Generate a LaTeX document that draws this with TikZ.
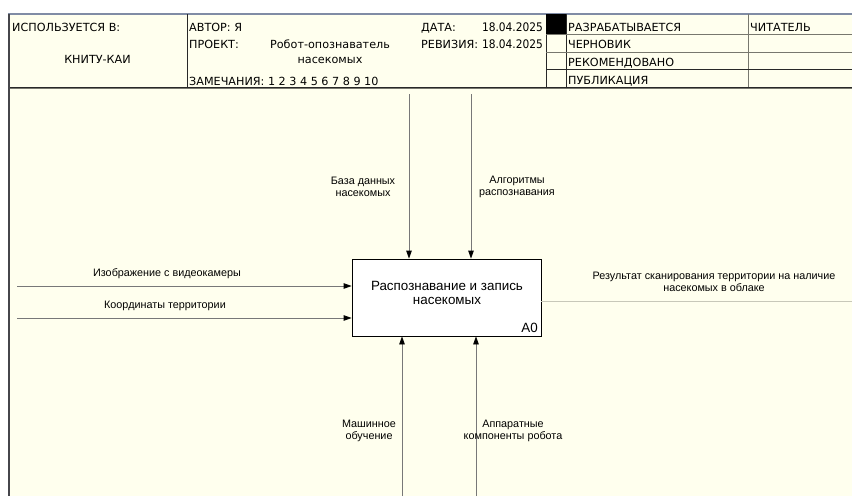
\documentclass[tikz,border=0pt]{standalone}
\usepackage{fontspec}
\setmainfont{Liberation Sans}
\newfontfamily\hdrfont{DejaVu Sans}
\newfontfamily\hdrcond{DejaVu Sans Condensed}
\newfontfamily\lblfont{Liberation Sans}
\usetikzlibrary{arrows.meta}
\definecolor{ivory}{RGB}{255,255,238}
\definecolor{framecol}{RGB}{128,140,165}
\definecolor{leftcol}{RGB}{70,70,75}
\definecolor{hdrline}{RGB}{40,40,40}
\definecolor{rowline}{RGB}{120,120,110}
\definecolor{arrline}{RGB}{120,120,120}
\definecolor{outline}{RGB}{200,200,185}
\begin{document}
\begin{tikzpicture}[x=1pt,y=-1pt,
  hdr/.style={font=\hdrfont\fontsize{11.2}{13}\selectfont, inner sep=0pt},
  hdrnum/.style={font=\hdrcond\fontsize{11.8}{13}\selectfont, inner sep=0pt},
  lbl/.style={font=\lblfont\fontsize{10.8}{12}\selectfont, inner sep=0pt, align=center},
  boxtxt/.style={font=\lblfont\fontsize{13.4}{15}\selectfont, inner sep=0pt, align=center},
  flow/.style={draw=arrline, line width=0.8pt, -{Triangle[length=8pt,width=5.5pt,color=black]}},
  outflow/.style={draw=outline, line width=1pt}]
\useasboundingbox (0,0) rectangle (852,496);
\fill[white] (0,0) rectangle (852,496);
\fill[ivory] (8,14) rectangle (852,496);
% header frame
\draw[framecol, line width=1.5pt] (8,14) -- (852,14);
\draw[hdrline, line width=1pt] (8,87) -- (852,87);
\draw[rowline, line width=1pt] (8,88.5) -- (852,88.5);
\draw[hdrline, line width=1pt] (187,14) -- (187,87);
\draw[hdrline, line width=1pt] (546,14) -- (546,87);
\draw[hdrline, line width=1pt] (566,14) -- (566,87);
\draw[rowline, line width=1pt] (748,14) -- (748,87);
\fill[black] (546,14) rectangle (566,34);
\draw[rowline, line width=1pt] (546,34) -- (852,34);
\draw[rowline, line width=1pt] (546,52) -- (852,52);
\draw[hdrline, line width=1pt] (546,69.5) -- (852,69.5);
\draw[leftcol, line width=2pt] (9,14) -- (9,496);
% header texts
\node[hdr, anchor=base west] (uses) at (12,31) {ИСПОЛЬЗУЕТСЯ В:};
\node[hdr, anchor=base] (org) at (97.5,63) {КНИТУ-КАИ};
\node[hdr, anchor=base west] (author) at (189,31) {АВТОР: Я};
\node[hdr, anchor=base west] (proj) at (189,48) {ПРОЕКТ:};
\node[hdr, anchor=base, align=center] (projname) at (330,48) {Робот-опознаватель};
\node[hdr, anchor=base] (projname2) at (330,63) {насекомых};
\node[hdr, anchor=base west] (notes) at (189,85) {ЗАМЕЧАНИЯ: 1 2 3 4 5 6 7 8 9 10};
\node[hdr, anchor=base west] (date) at (421,31) {ДАТА:};
\node[hdrnum, anchor=base east] (dateval) at (543,31) {18.04.2025};
\node[hdr, anchor=base west] (rev) at (421,48) {РЕВИЗИЯ:};
\node[hdrnum, anchor=base east] (revval) at (543,48) {18.04.2025};
\node[hdr, anchor=base west] (st1) at (568,31) {РАЗРАБАТЫВАЕТСЯ};
\node[hdr, anchor=base west] (st2) at (568,48) {ЧЕРНОВИК};
\node[hdr, anchor=base west] (st3) at (568,66) {РЕКОМЕНДОВАНО};
\node[hdr, anchor=base west] (st4) at (568,84) {ПУБЛИКАЦИЯ};
\node[hdr, anchor=base west] (reader) at (750,31) {ЧИТАТЕЛЬ};
% activity box
\node[draw=black, fill=white, line width=0.8pt, minimum width=189pt, minimum height=77pt, inner sep=0pt] (A0) at (446.5,297.5) {};
\node[boxtxt] (A0t1) at (447,286) {Распознавание и запись};
\node[boxtxt] (A0t2) at (447,301) {насекомых};
\node[boxtxt, anchor=base east] (A0id) at (538,332) {A0};
% coordinates for free ends
\coordinate (in1) at (17,286);
\coordinate (in2) at (17,318);
\coordinate (c1) at (409,94);
\coordinate (c2) at (471,94);
\coordinate (m1) at (402,496);
\coordinate (m2) at (476,496);
\coordinate (out) at (852,301);
% arrows
\draw[flow] (in1) -- (in1 -| A0.west);
\draw[flow] (in2) -- (in2 -| A0.west);
\draw[flow] (c1) -- (c1 |- A0.north);
\draw[flow] (c2) -- (c2 |- A0.north);
\draw[flow] (m1) -- (m1 |- A0.south);
\draw[flow] (m2) -- (m2 |- A0.south);
\draw[outflow] (out -| A0.east) -- (out);
% labels
\node[lbl] (l1) at (167,274) {Изображение с видеокамеры};
\node[lbl] (l2) at (165,306) {Координаты территории};
\node[lbl] (l3) at (363,187) {База данных\\насекомых};
\node[lbl] (l4) at (517,187) {Алгоритмы\\распознавания};
\node[lbl] (l5) at (369,431) {Машинное\\обучение};
\node[lbl] (l6) at (513,431) {Аппаратные\\компоненты робота};
\node[lbl] (l7) at (714,282) {Результат сканирования территории на наличие\\насекомых в облаке};
\end{tikzpicture}
\end{document}
